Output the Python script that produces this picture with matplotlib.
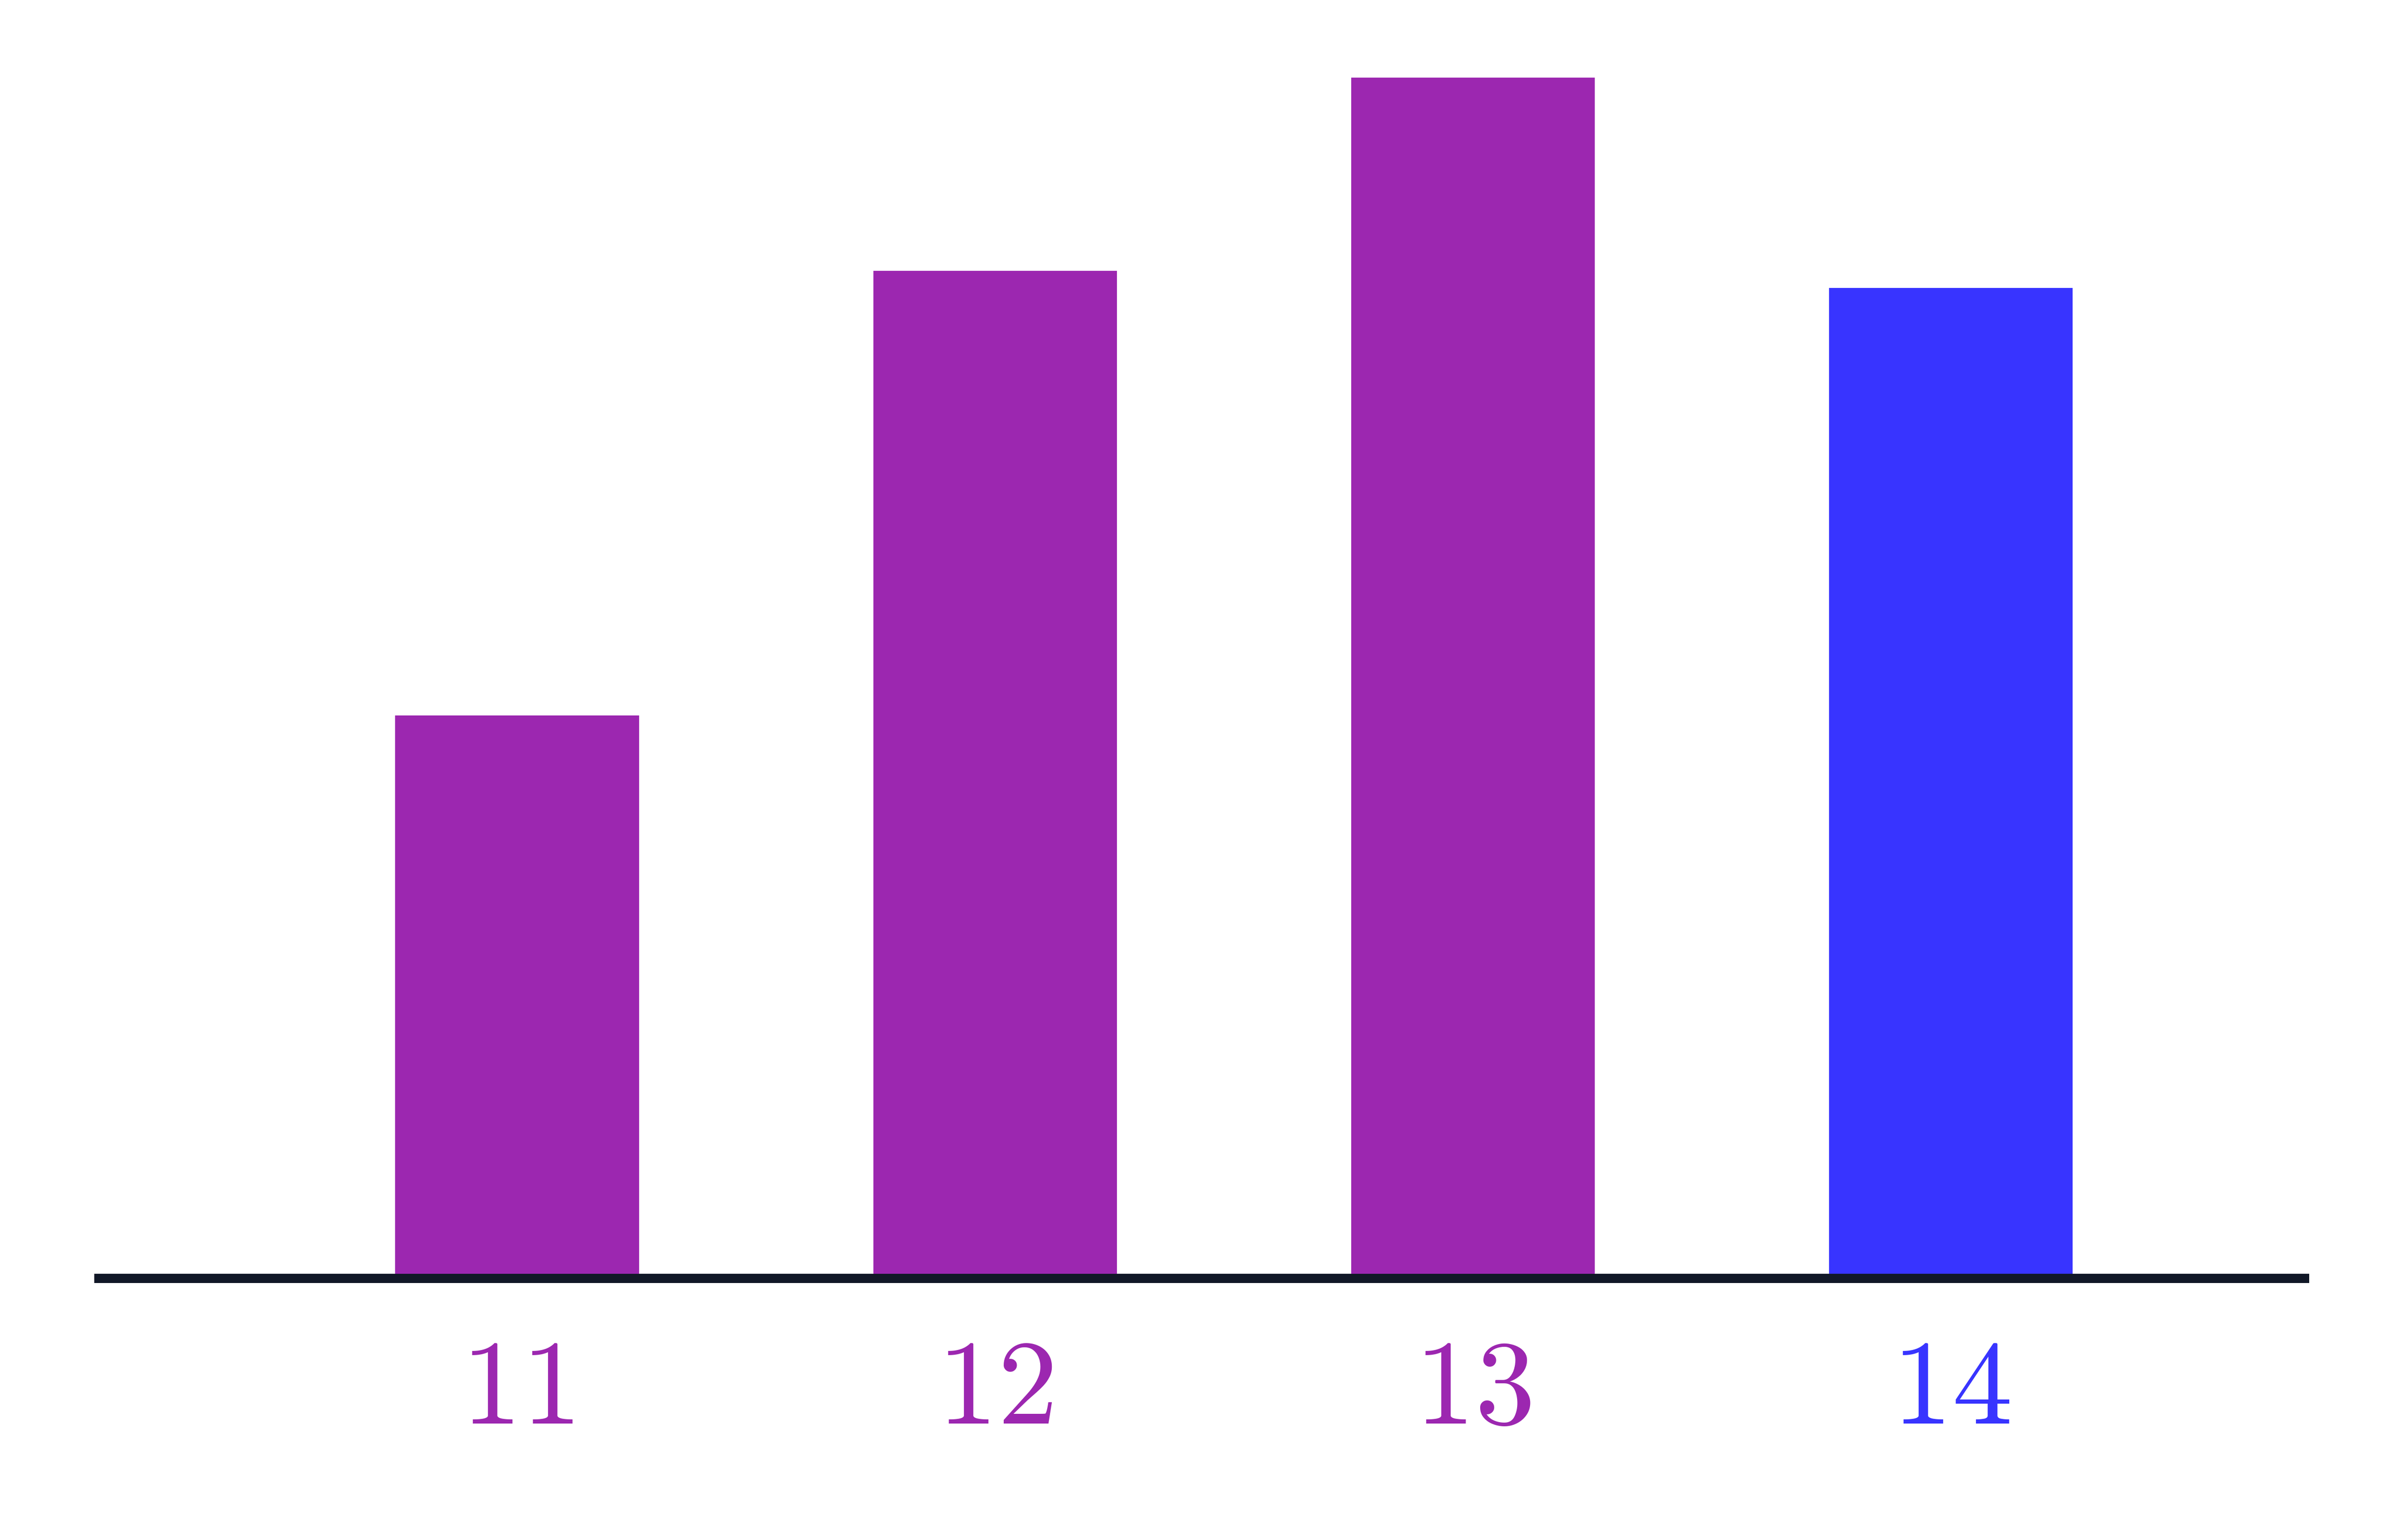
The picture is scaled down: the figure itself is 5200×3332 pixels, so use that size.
import matplotlib
matplotlib.use('Agg')
import matplotlib.pyplot as plt

plt.rcParams['mathtext.fontset'] = 'cm'

labels = ['11', '12', '13', '14']
values = [46.9, 83.9, 100.0, 82.5]
colors = ['#9C27B0', '#9C27B0', '#9C27B0', '#3834FF']

fig = plt.figure(figsize=(13, 8.33), dpi=400)
ax = fig.add_axes([204 / 5200, 0.16987, (4997 - 204) / 5200, 0.94958 - 0.16987])

xs = list(range(len(labels)))
ax.bar(xs, values, width=0.51, color=colors, zorder=2)
ax.axhline(0, color='#111827', linewidth=3.6, solid_capstyle='butt', zorder=3, clip_on=False)

ax.set_xlim(-0.885, 3.75)
ax.set_ylim(0, 100)
for s in ax.spines.values():
    s.set_visible(False)
ax.set_yticks([])
ax.set_xticks(xs)
ax.set_xticklabels(['$' + l + '$' for l in labels], fontsize=47)
ax.tick_params(axis='x', length=0, pad=20.8)
for t, c in zip(ax.get_xticklabels(), colors):
    t.set_color(c)

fig.savefig('out.png', dpi=400, facecolor='white')
